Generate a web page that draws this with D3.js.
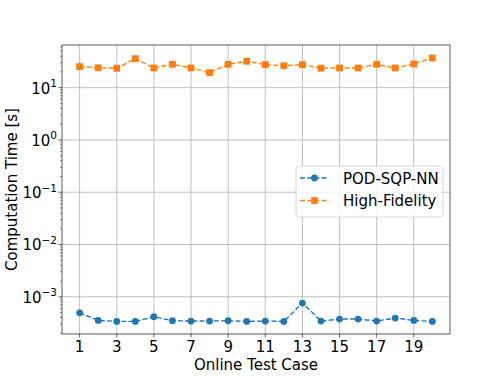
<!DOCTYPE html>
<html>
<head>
<meta charset="utf-8">
<script src="https://cdn.jsdelivr.net/npm/d3@7"></script>
<style>
body { margin: 0; background: #fff; }
svg { font-family: "DejaVu Sans", sans-serif; }
</style>
</head>
<body>
<svg id="chart" width="500" height="376"></svg>
<script>
// data
var cases = d3.range(1, 21)
var podSqpNN = [4.94e-4, 3.53e-4, 3.38e-4, 3.38e-4, 4.15e-4, 3.48e-4, 3.43e-4, 3.43e-4, 3.48e-4, 3.38e-4,
                3.43e-4, 3.38e-4, 7.58e-4, 3.43e-4, 3.75e-4, 3.75e-4, 3.43e-4, 3.92e-4, 3.53e-4, 3.38e-4]
var highFidelity = [25.3, 24.0, 23.5, 35.8, 23.8, 28.0, 23.8, 19.4, 28.0, 32.0,
                    27.6, 26.3, 27.6, 23.5, 23.8, 23.8, 28.0, 23.8, 28.4, 37.0]
var xTicks = [1, 3, 5, 7, 9, 11, 13, 15, 17, 19]
var yExps = [-3, -2, -1, 0, 1]
var seriesNames = ["POD-SQP-NN", "High-Fidelity"]

var svg = d3.select("#chart")
// plot area edges
var pL = 62, pR = 450, pT = 45, pB = 334
var fs = 15

var x = d3.scaleLinear().domain([0.05, 20.95]).range([pL, pR])
var y = d3.scaleLog().domain([1.94e-4, 65.5]).range([pB, pT])

var gridColor = "#b0b0b0"

// grid
svg.append("g").selectAll("line").data(xTicks).enter().append("line")
  .attr("x1", d => x(d)).attr("x2", d => x(d))
  .attr("y1", pT).attr("y2", pB)
  .attr("stroke", gridColor).attr("stroke-width", 0.8)
svg.append("g").selectAll("line").data(yExps).enter().append("line")
  .attr("x1", pL).attr("x2", pR)
  .attr("y1", d => y(Math.pow(10, d))).attr("y2", d => y(Math.pow(10, d)))
  .attr("stroke", gridColor).attr("stroke-width", 0.8)

// minor ticks on y
var minors = []
for (var e = -4; e <= 1; e++) {
  for (var m = 2; m <= 9; m++) {
    var v = m * Math.pow(10, e)
    if (v >= y.domain()[0] && v <= y.domain()[1]) minors.push(v)
  }
}
svg.append("g").selectAll("line").data(minors).enter().append("line")
  .attr("x1", pL - 2).attr("x2", pL)
  .attr("y1", d => y(d)).attr("y2", d => y(d))
  .attr("stroke", "#333").attr("stroke-width", 0.6)

// major ticks
svg.append("g").selectAll("line").data(yExps).enter().append("line")
  .attr("x1", pL - 3.5).attr("x2", pL)
  .attr("y1", d => y(Math.pow(10, d))).attr("y2", d => y(Math.pow(10, d)))
  .attr("stroke", "#333").attr("stroke-width", 0.8)
svg.append("g").selectAll("line").data(xTicks).enter().append("line")
  .attr("x1", d => x(d)).attr("x2", d => x(d))
  .attr("y1", pB).attr("y2", pB + 3.5)
  .attr("stroke", "#333").attr("stroke-width", 0.8)

// tick labels
svg.append("g").selectAll("text").data(xTicks).enter().append("text")
  .attr("x", d => x(d)).attr("y", pB + 17.5)
  .attr("text-anchor", "middle").attr("font-size", fs).attr("fill", "#000")
  .text(d => d)

var yl = svg.append("g").selectAll("text").data(yExps).enter().append("text")
  .attr("x", pL - 5).attr("y", d => y(Math.pow(10, d)) + 6)
  .attr("text-anchor", "end").attr("font-size", fs).attr("fill", "#000")
yl.append("tspan").text("10")
yl.append("tspan").attr("dy", -6.5).attr("font-size", 10.5)
  .text(d => d < 0 ? "\u2212" + Math.abs(d) : d)

// axis labels
svg.append("text").attr("x", (pL + pR) / 2).attr("y", 370)
  .attr("text-anchor", "middle").attr("font-size", fs).text("Online Test Case")
svg.append("text").attr("transform", "translate(17," + ((pT + pB) / 2) + ") rotate(-90)")
  .attr("text-anchor", "middle").attr("font-size", fs).text("Computation Time [s]")

// series
var colors = ["#1f77b4", "#ff7f0e"]
var allSeries = [podSqpNN, highFidelity]
var line = d3.line().x((d, i) => x(cases[i])).y(d => y(d))

allSeries.forEach(function(s, k) {
  svg.append("path").datum(s)
    .attr("d", line).attr("fill", "none")
    .attr("stroke", colors[k]).attr("stroke-width", 1.4)
    .attr("stroke-dasharray", "5,2.2")
  if (k == 0) {
    svg.append("g").selectAll("circle").data(s).enter().append("circle")
      .attr("cx", (d, i) => x(cases[i])).attr("cy", d => y(d)).attr("r", 3.4)
      .attr("fill", colors[k])
  } else {
    svg.append("g").selectAll("rect").data(s).enter().append("rect")
      .attr("x", (d, i) => x(cases[i]) - 3.4).attr("y", d => y(d) - 3.4)
      .attr("width", 6.8).attr("height", 6.8)
      .attr("fill", colors[k])
  }
})

// frame
svg.append("rect").attr("x", pL).attr("y", pT)
  .attr("width", pR - pL).attr("height", pB - pT)
  .attr("fill", "none").attr("stroke", "#333").attr("stroke-width", 0.8)

// legend
var lg = svg.append("g").attr("transform", "translate(296,166)")
lg.append("rect").attr("width", 147).attr("height", 51).attr("rx", 3)
  .attr("fill", "#fff").attr("fill-opacity", 0.8)
  .attr("stroke", "#ccc").attr("stroke-width", 0.8)
seriesNames.forEach(function(name, k) {
  var ry = 12 + k * 22.5
  lg.append("line").attr("x1", 4).attr("x2", 33).attr("y1", ry).attr("y2", ry)
    .attr("stroke", colors[k]).attr("stroke-width", 1.4).attr("stroke-dasharray", "5,2.2")
  if (k == 0) {
    lg.append("circle").attr("cx", 18.5).attr("cy", ry).attr("r", 3.4).attr("fill", colors[k])
  } else {
    lg.append("rect").attr("x", 15.1).attr("y", ry - 3.4).attr("width", 6.8).attr("height", 6.8).attr("fill", colors[k])
  }
  lg.append("text").attr("x", 47).attr("y", ry + 5.5).attr("font-size", fs).text(name)
})
</script>
</body>
</html>
